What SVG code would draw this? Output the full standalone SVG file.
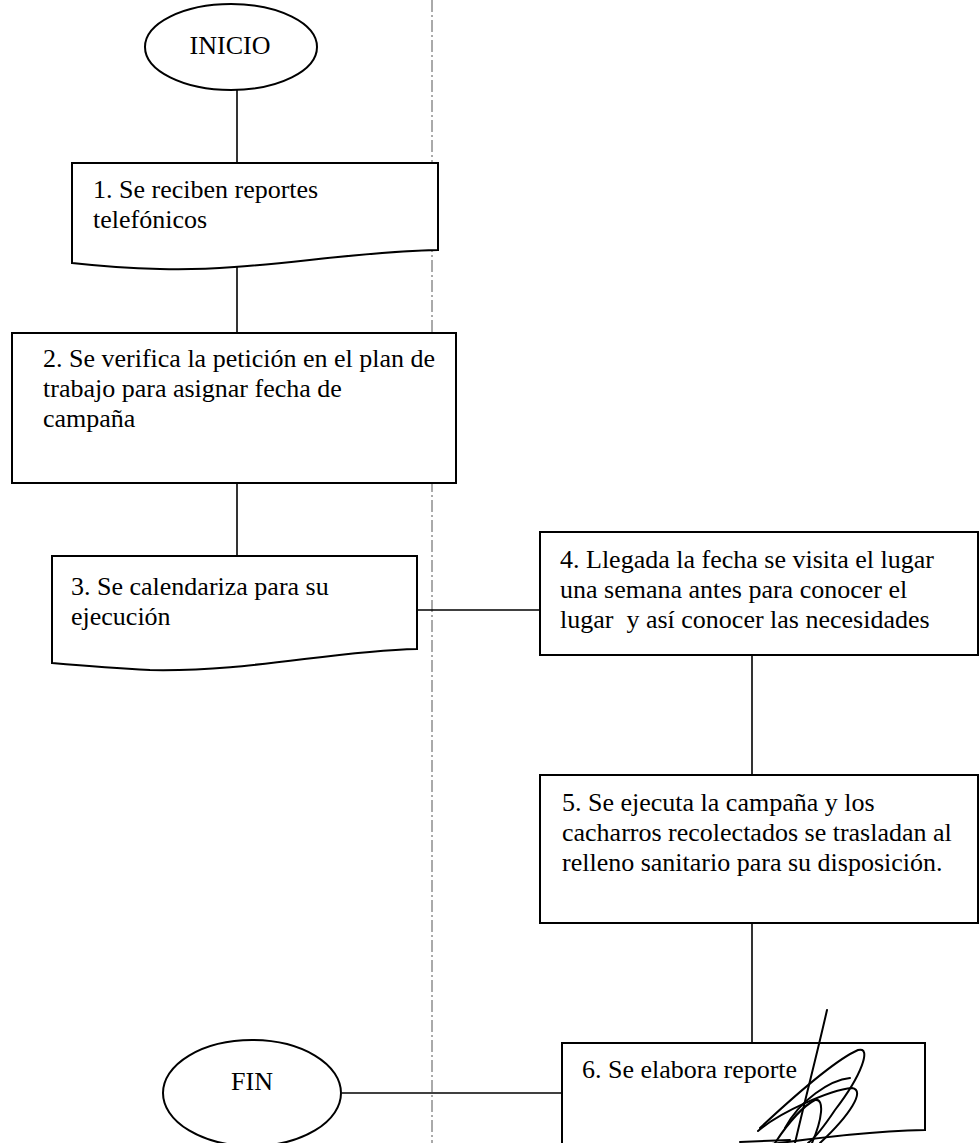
<svg xmlns="http://www.w3.org/2000/svg" width="980" height="1143" viewBox="0 0 980 1143">
<style>
.shape{fill:#fff;stroke:#000;stroke-width:2}
.conn{fill:none;stroke:#000;stroke-width:1.6}
.lane{fill:none;stroke:#555;stroke-width:1;stroke-dasharray:12 3 2 3}
.t{font-size:26px;fill:#000}
.sig{fill:none;stroke:#000;stroke-width:2;stroke-linecap:round}
</style>
<rect width="980" height="1143" fill="#fff"/>
<line class="lane" x1="432" y1="0" x2="432" y2="1143"/>
<g id="connectors">
<line class="conn" x1="237" y1="90" x2="237" y2="163"/>
<line class="conn" x1="237" y1="266" x2="237" y2="333"/>
<line class="conn" x1="237" y1="483" x2="237" y2="556"/>
<line class="conn" x1="417" y1="610" x2="540" y2="610"/>
<line class="conn" x1="752" y1="655" x2="752" y2="775"/>
<line class="conn" x1="752" y1="923" x2="752" y2="1043"/>
<line class="conn" x1="342" y1="1093" x2="562" y2="1093"/>
</g>
<g font-family="Liberation Serif, Times New Roman, serif">
<g id="inicio">
<ellipse class="shape" cx="231" cy="47" rx="86" ry="43"/>
<text class="t" x="230" y="54" text-anchor="middle" font-size="24">INICIO</text>
</g>
<g id="n1">
<path class="shape" d="M72,163 H438 V250 C340,252 250,272 160,269 C120,268 90,265 72,263 Z"/>
<text class="t" x="93" y="198">1. Se reciben reportes</text>
<text class="t" x="93" y="228">telefónicos</text>
</g>
<g id="n2">
<rect class="shape" x="12" y="333" width="444" height="150"/>
<text class="t" x="43" y="367">2. Se verifica la petición en el plan de</text>
<text class="t" x="43" y="397">trabajo para asignar fecha de</text>
<text class="t" x="43" y="427">campaña</text>
</g>
<g id="n3">
<path class="shape" d="M52,556 H417 V649 C330,651 250,672 150,670 C110,668 75,665 52,663 Z"/>
<text class="t" x="71" y="595">3. Se calendariza para su</text>
<text class="t" x="71" y="625">ejecución</text>
</g>
<g id="n4">
<rect class="shape" x="540" y="532" width="438" height="123"/>
<text class="t" x="560" y="568">4. Llegada la fecha se visita el lugar</text>
<text class="t" x="560" y="598">una semana antes para conocer el</text>
<text class="t" x="560" y="628" xml:space="preserve">lugar  y así conocer las necesidades</text>
</g>
<g id="n5">
<rect class="shape" x="540" y="775" width="438" height="148"/>
<text class="t" x="562" y="811">5. Se ejecuta la campaña y los</text>
<text class="t" x="562" y="841">cacharros recolectados se trasladan al</text>
<text class="t" x="562" y="871">relleno sanitario para su disposición.</text>
</g>
<g id="n6">
<path class="shape" d="M562,1043 H925 V1130 C830,1132 740,1152 650,1156 C610,1156 580,1152 562,1150 Z"/>
<text class="t" x="582" y="1078">6. Se elabora reporte</text>
</g>
<g id="fin">
<ellipse class="shape" cx="252" cy="1093" rx="89" ry="53"/>
<text class="t" x="252" y="1090" text-anchor="middle" font-size="25">FIN</text>
</g>
</g>
<g id="signature">
<path class="sig" d="M827,1010 C818,1050 805,1100 795,1143"/>
<path class="sig" d="M760,1128 C790,1100 835,1060 858,1050 C872,1046 862,1075 835,1110 C825,1125 815,1138 808,1143"/>
<path class="sig" d="M758,1131 C780,1112 830,1090 852,1088 C866,1090 850,1115 820,1143"/>
<path class="sig" d="M775,1143 C790,1120 805,1105 815,1100 C825,1098 822,1120 812,1143"/>
<path class="sig" d="M785,1128 C800,1100 830,1080 850,1078"/>
<path class="sig" d="M740,1142 L790,1140"/>
</g>
</svg>
